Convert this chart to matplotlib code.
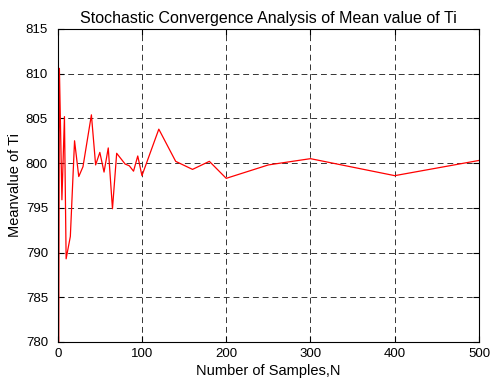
import matplotlib
matplotlib.use('Agg')
import matplotlib.pyplot as plt
import numpy as np

plt.rcParams['font.family'] = ['Liberation Sans', 'DejaVu Sans']

# sample counts and running mean of Ti
n_samples = [1, 2, 5, 8, 10, 15, 20, 25, 30, 40, 45, 50, 55, 60, 65, 70,
             80, 85, 90, 95, 100, 120, 140, 160, 180, 200, 250, 300, 400, 500]
mean_ti = [770.0, 810.6, 795.9, 805.2, 789.3, 791.8, 802.5, 798.5, 799.6, 805.4,
           799.8, 801.2, 799.0, 801.7, 794.9, 801.1, 799.9, 799.7, 799.1, 800.8,
           798.6, 803.8, 800.2, 799.3, 800.2, 798.3, 799.8, 800.5, 798.6, 800.3]

fig = plt.figure(figsize=(4.94, 3.81), dpi=100)
ax = fig.add_axes([0.1168, 0.1024, 0.8528, 0.8215])

ax.plot(n_samples, mean_ti, color='r', linewidth=0.9)

ax.set_xlim(0, 500)
ax.set_ylim(780, 815)
ax.set_xticks(np.arange(0, 501, 100))
ax.set_yticks(np.arange(780, 816, 5))
ax.grid(True, color='#333333', linestyle=(0, (6, 4)), linewidth=0.7)
ax.tick_params(direction='in', top=True, right=True, labelsize=9.5, length=4)
ax.tick_params(axis='x', pad=4)
ax.tick_params(axis='y', pad=7)
for s in ax.spines.values():
    s.set_linewidth(0.8)

ax.set_title('Stochastic Convergence Analysis of Mean value of Ti', fontsize=11.5, pad=4)
ax.set_xlabel('Number of Samples,N', fontsize=10.5, labelpad=3)
ax.set_ylabel('Meanvalue of Ti', fontsize=10.5, labelpad=3)

fig.savefig('out.png', dpi=100)
